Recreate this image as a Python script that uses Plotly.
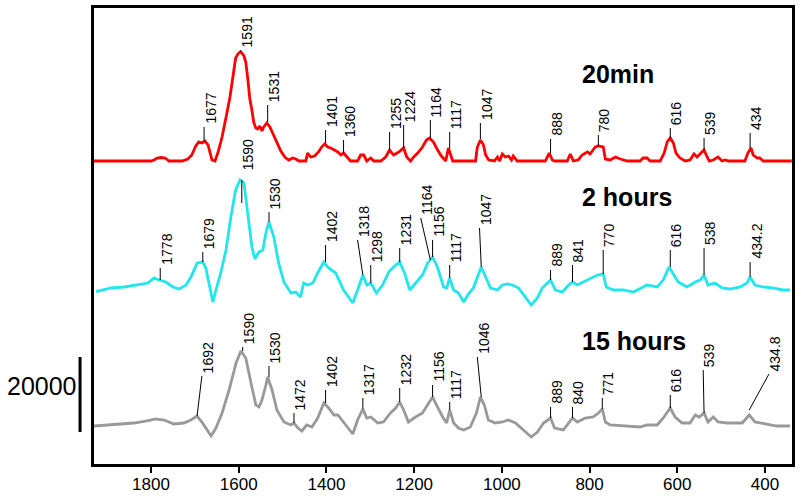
import plotly.graph_objects as go

# ---------------- data ----------------
# wavenumber (cm-1) and intensity (counts above each trace's own reference level)
red_wn = [1930, 1800, 1793, 1786, 1777, 1768, 1759, 1729, 1716, 1707,
          1698, 1691, 1684, 1677, 1670, 1666, 1661, 1654, 1647, 1638,
          1632, 1627, 1620, 1616, 1611, 1607, 1602, 1597, 1593, 1588,
          1584, 1579, 1575, 1570, 1566, 1561, 1557, 1552, 1547, 1543,
          1536, 1529, 1522, 1513, 1504, 1495, 1486, 1477, 1470, 1463,
          1447, 1443, 1436, 1427, 1418, 1411, 1404, 1397, 1390, 1374,
          1367, 1361, 1352, 1345, 1329, 1322, 1315, 1308, 1299, 1292,
          1276, 1265, 1256, 1247, 1235, 1224, 1217, 1208, 1201, 1192,
          1181, 1172, 1165, 1156, 1149, 1140, 1128, 1122, 1112, 1060,
          1056, 1049, 1042, 1037, 1030, 1017, 1010, 1005, 999, 992,
          985, 978, 974, 965, 901, 896, 892, 885, 880, 851,
          844, 837, 826, 817, 805, 799, 787, 780, 769, 764,
          753, 741, 730, 714, 685, 678, 669, 662, 639, 630,
          623, 616, 609, 603, 594, 582, 571, 562, 555, 546,
          539, 532, 527, 518, 507, 498, 491, 484, 446, 439,
          432, 427, 418, 412, 404, 339]
red_int = [0, 0, 270, 800, 930, 800, 0, 0, 530, 1600,
           4000, 5070, 4800, 5330, 4270, 2400, 270, 0, 2400, 6400,
           9600, 12800, 17070, 20800, 24270, 27470, 28530, 29070, 28800, 28000,
           26400, 21600, 16800, 13600, 10400, 8800, 8530, 9330, 8000, 9070,
           10130, 9070, 7200, 4800, 2670, 1070, 270, 800, 530, 0,
           0, 2130, 1070, 1330, 2400, 3730, 4530, 3730, 3470, 2400,
           1600, 2130, 1070, 0, 0, 1600, 1600, 0, 800, 0,
           0, 1070, 2930, 1600, 2400, 3470, 1070, 0, 1070, 2130,
           3730, 5600, 6130, 5070, 3470, 1600, 0, 3470, 0, 0,
           3730, 5600, 4270, 1600, 270, 0, 1070, 0, 1870, 1070,
           1330, 270, 1330, 0, 0, 1330, 2130, 270, 0, 0,
           1870, 0, 270, 1600, 2400, 1870, 3730, 4000, 3730, 530,
           270, 1070, 530, 0, 0, 800, 800, 0, 0, 2130,
           5070, 6130, 4800, 2130, 800, 0, 270, 1870, 1070, 2130,
           2930, 1070, 0, 270, 1070, 0, 270, 0, 0, 2130,
           3470, 1600, 800, 800, 0, 0]

cyan_wn = [1925, 1891, 1861, 1830, 1807, 1793, 1782, 1766, 1750, 1736,
           1720, 1709, 1695, 1682, 1675, 1668, 1659, 1652, 1641, 1629,
           1618, 1607, 1597, 1588, 1579, 1570, 1563, 1554, 1545, 1538,
           1531, 1520, 1509, 1497, 1481, 1470, 1459, 1452, 1443, 1431,
           1420, 1406, 1395, 1379, 1361, 1340, 1329, 1317, 1308, 1299,
           1286, 1272, 1258, 1247, 1233, 1222, 1210, 1197, 1181, 1169,
           1158, 1147, 1133, 1126, 1119, 1110, 1099, 1087, 1078, 1065,
           1056, 1047, 1037, 1026, 1010, 999, 987, 976, 962, 946,
           933, 919, 908, 896, 889, 878, 862, 848, 839, 828,
           814, 798, 782, 769, 762, 746, 723, 700, 669, 646,
           632, 619, 610, 598, 578, 559, 548, 539, 530, 514,
           498, 480, 457, 441, 434, 423, 405, 382, 359, 343]
cyan_int = [2210, 3200, 3470, 4000, 4530, 5870, 5330, 4800, 3470, 2930,
            4000, 6130, 9870, 10130, 8530, 4530, -530, 2670, 7200, 13330,
            22130, 29330, 32000, 31200, 22130, 14130, 10930, 12800, 13330, 17870,
            20800, 16800, 9870, 4800, 1870, 2130, 800, 4530, 4000, 4530,
            7200, 10130, 8530, 7200, 2670, -800, 2670, 6670, 4000, 4530,
            1870, 4000, 7470, 8800, 10130, 7200, 2670, 4530, 6670, 9870,
            11470, 8800, 3470, 3200, 5870, 2670, 1870, -530, 1330, 3200,
            6130, 8800, 6130, 3200, 2670, 4000, 4270, 4000, 3200, 800,
            -1330, 530, 3200, 4530, 5330, 2670, 2130, 4000, 4800, 4000,
            4800, 5870, 6670, 6930, 3470, 2670, 2670, 2130, 4000, 3470,
            5330, 8800, 7200, 4800, 3470, 4800, 5330, 6670, 4000, 4530,
            3200, 2930, 3470, 4530, 6130, 4000, 3470, 3200, 2670, 2670]

gray_wn = [1930, 1900, 1868, 1839, 1809, 1789, 1770, 1748, 1725, 1709,
           1695, 1684, 1672, 1663, 1652, 1638, 1622, 1606, 1595, 1584,
           1572, 1561, 1554, 1547, 1538, 1534, 1524, 1513, 1497, 1481,
           1474, 1465, 1456, 1445, 1433, 1420, 1406, 1395, 1383, 1374,
           1356, 1340, 1329, 1317, 1308, 1299, 1283, 1270, 1254, 1242,
           1233, 1224, 1213, 1197, 1181, 1169, 1158, 1149, 1135, 1126,
           1119, 1110, 1099, 1087, 1072, 1058, 1049, 1040, 1031, 1015,
           999, 985, 969, 951, 933, 919, 905, 889, 880, 860,
           851, 839, 828, 810, 792, 780, 771, 764, 753, 714,
           685, 669, 646, 632, 616, 605, 589, 571, 559, 550,
           539, 530, 518, 507, 487, 452, 436, 423, 400, 373,
           343]
gray_int = [3730, 4000, 4270, 4530, 5070, 5600, 5330, 4270, 4530, 5330,
            6400, 4800, 2670, 1070, 3200, 7200, 13330, 20530, 23730, 21870,
            15200, 9330, 8800, 10670, 14670, 16800, 13330, 8000, 4800, 4000,
            4530, 3200, 2400, 4000, 3470, 5870, 9870, 8530, 6670, 6670,
            4000, 1600, 5330, 8270, 5870, 6130, 4530, 4800, 7200, 8530,
            10130, 8000, 4800, 6130, 7200, 9330, 11470, 9330, 6130, 4530,
            8000, 4530, 3200, 2670, 3470, 7200, 11470, 9330, 5330, 4530,
            4800, 5330, 4530, 2670, 800, 2130, 4530, 5870, 3200, 2670,
            4000, 5870, 4800, 5870, 6130, 7200, 8270, 4800, 4000, 3730,
            3470, 4000, 4000, 5870, 8530, 6130, 4530, 4530, 6670, 6130,
            7200, 4800, 6130, 4800, 4530, 4530, 6670, 4800, 4270, 3730,
            3730]

series_names = ["20min", "2 hours", "15 hours"]
tick_values = [1800, 1600, 1400, 1200, 1000, 800, 600, 400]
scale_value = 20000

# peak labels: text, leader bottom (x, y), leader top / text anchor (x, y)
red_labels = [("1677", 1679, 86133, 1679, 89867), ("1591", 1595, 109867, 1595, 110400),
              ("1531", 1534, 91200, 1534, 95733), ("1401", 1402, 85600, 1402, 89067),
              ("1360", 1361, 82933, 1361, 86400), ("1255", 1256, 83733, 1256, 88533),
              ("1224", 1224, 84267, 1224, 90400), ("1164", 1163, 86933, 1163, 91733),
              ("1117", 1119, 84267, 1119, 88533), ("1047", 1049, 86667, 1049, 90933),
              ("888", 889, 82933, 889, 86667), ("780", 780, 84800, 780, 87733),
              ("616", 616, 86933, 616, 89600), ("539", 539, 83733, 539, 86933),
              ("434", 434, 84267, 434, 88267)]
cyan_labels = [("1778", 1779, 49067, 1779, 52267), ("1679", 1682, 53867, 1682, 56533),
               ("1530", 1531, 64533, 1531, 67200), ("1402", 1402, 53867, 1402, 58400),
               ("1318", 1317, 50400, 1329, 59733), ("1298", 1299, 48267, 1299, 53067),
               ("1231", 1233, 53867, 1233, 57600), ("1164", 1163, 54400, 1185, 65600),
               ("1156", 1158, 55200, 1158, 59733), ("1117", 1119, 49600, 1119, 53067),
               ("1047", 1047, 52533, 1051, 62933), ("889", 889, 49067, 889, 51733),
               ("841", 839, 48533, 839, 53067), ("770", 769, 50667, 769, 57067),
               ("616", 616, 52533, 616, 57067), ("538", 539, 50400, 539, 57600),
               ("434.2", 434, 49867, 434, 53867)]
cyan_main_label = ("1590", 1593, 75733, 1593, 69600, 1593, 77600)
gray_labels = [("1692", 1695, 12800, 1684, 23467), ("1590", 1591, 30133, 1591, 31200),
               ("1530", 1531, 23200, 1531, 26133), ("1472", 1474, 10933, 1474, 13600),
               ("1402", 1402, 16267, 1402, 19733), ("1317", 1317, 14667, 1317, 17600),
               ("1232", 1233, 16533, 1233, 20267), ("1156", 1158, 17867, 1158, 21067),
               ("1117", 1119, 14400, 1119, 16533), ("1046", 1047, 17867, 1056, 28533),
               ("889", 889, 12267, 889, 15200), ("840", 839, 12267, 839, 15200),
               ("771", 771, 14667, 771, 17600), ("616", 616, 14933, 616, 18400),
               ("539", 539, 13600, 541, 25067), ("434.8", 436, 14400, 391, 24000)]

# ---------------- layout / style ----------------
offsets = [80800, 43733, 6400]
colors = ["#ff0000", "#22e6ee", "#999999"]
FONT = "Liberation Sans, Arial, Helvetica, sans-serif"

fig = go.Figure()
for wn, inten, off, col, name in zip([red_wn, cyan_wn, gray_wn],
                                     [red_int, cyan_int, gray_int],
                                     offsets, colors, series_names):
    fig.add_trace(go.Scatter(x=wn, y=[v + off for v in inten], mode="lines",
                             line=dict(color=col, width=2.8), name=name,
                             showlegend=False, hoverinfo="skip"))

def add_label(text, x0, y0, x1, y1, tx=None, ty=None):
    fig.add_shape(type="line", xref="x", yref="y", x0=x0, y0=y0, x1=x1, y1=y1,
                  line=dict(color="black", width=1))
    fig.add_annotation(x=x1 if tx is None else tx, y=y1 if ty is None else ty,
                       xref="x", yref="y", text=text, textangle=-90,
                       xanchor="left", yanchor="bottom", showarrow=False,
                       xshift=-3, yshift=2, borderpad=0,
                       font=dict(family=FONT, size=14, color="black"))

for lab in red_labels + cyan_labels + gray_labels:
    add_label(*lab)
t, x0, y0, x1, y1, tx, ty = cyan_main_label
add_label(t, x0, y0, x1, y1, tx, ty)

# series titles
for name, yv in zip(series_names, [104133, 71200, 32800]):
    fig.add_annotation(x=821, y=yv, xref="x", yref="y", text="<b>%s</b>" % name,
                       xanchor="left", yanchor="middle", showarrow=False,
                       font=dict(family=FONT, size=25, color="black"))

# intensity scale bar
bar_bottom = 8533
fig.add_shape(type="line", xref="paper", yref="y", x0=-0.02, x1=-0.02,
              y0=bar_bottom, y1=bar_bottom + scale_value,
              line=dict(color="black", width=3))
fig.add_annotation(x=-0.0215, y=bar_bottom + scale_value * 0.62, xref="paper", yref="y",
                   text=str(scale_value), xanchor="right", yanchor="middle",
                   showarrow=False, font=dict(family=FONT, size=25, color="black"))

fig.update_layout(
    template="none",
    width=800, height=502,
    margin=dict(l=94, r=8, t=8, b=38, autoexpand=False),
    paper_bgcolor="white", plot_bgcolor="white",
    xaxis=dict(range=[1930, 338.5], tickvals=tick_values, automargin=False,
               ticks="outside", ticklen=6, tickwidth=2, tickcolor="black",
               ticklabelstandoff=-3,
               showline=True, mirror=True, linewidth=2.5, linecolor="black",
               showgrid=False, zeroline=False,
               tickfont=dict(family=FONT, size=17, color="black")),
    yaxis=dict(range=[0, 121600], showticklabels=False, ticks="", automargin=False,
               showline=True, mirror=True, linewidth=2.5, linecolor="black",
               showgrid=False, zeroline=False),
)

fig.write_html("out.html", config={"displayModeBar": False},
               post_script="document.body.style.margin='0px';"
                           "document.body.style.overflow='hidden';")
